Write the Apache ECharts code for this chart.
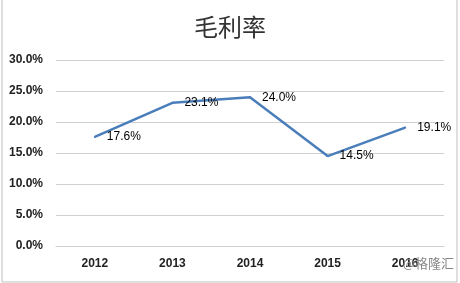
<!DOCTYPE html>
<html><head><meta charset="utf-8">
<script src="https://cdn.jsdelivr.net/npm/echarts@6/dist/echarts.min.js"></script>
<style>html,body{margin:0;padding:0;background:#fff}#c{width:460px;height:283px}</style>
</head><body><div id="c"></div>
<script>
const categories = ['2012','2013','2014','2015','2016'];
const grossMargin = [17.6, 23.1, 24.0, 14.5, 19.1];
const yTicks = [0, 5, 10, 15, 20, 25, 30];
const chart = echarts.init(document.getElementById('c'));
chart.setOption({
  animation: false,
  backgroundColor: '#fff',
  title: { text: '毛利率', left: 'center', top: 10,
    textStyle: { fontFamily: 'Noto Sans CJK SC', fontSize: 24, fontWeight: 'normal', color: '#333' } },
  graphic: [
    { type: 'rect', shape: { x: 2, y: -5, width: 455, height: 287 }, style: { fill: 'none', stroke: '#bfbfbf', lineWidth: 1 } },
    { type: 'text', right: 6, top: 257, z: 100, style: { text: '@格隆汇', fill: '#888', font: '13px "Noto Sans CJK SC"' } }
  ],
  grid: { left: 56, right: 16, top: 60, bottom: 37 },
  xAxis: { type: 'category', data: categories, boundaryGap: true,
    axisLine: { lineStyle: { color: '#d0d0d0' } }, axisTick: { show: false },
    axisLabel: { color: '#222', fontWeight: 'bold', fontSize: 12, fontFamily: 'Liberation Sans', margin: 12 } },
  yAxis: { type: 'value', min: yTicks[0], max: yTicks[yTicks.length-1], interval: 5,
    axisLine: { show: false }, axisTick: { show: false },
    splitLine: { lineStyle: { color: '#d0d0d0' } },
    axisLabel: { color: '#222', fontWeight: 'bold', fontSize: 12, fontFamily: 'Liberation Sans', margin: 13,
      formatter: v => v.toFixed(1) + '%' } },
  series: [{ type: 'line', data: grossMargin, showSymbol: true, symbol: 'circle', symbolSize: 2,
    itemStyle: { color: '#4a7ebb' },
    lineStyle: { color: '#4a7ebb', width: 2.5 },
    label: { show: true, position: 'right', distance: 11, color: '#000', fontSize: 12, fontFamily: 'Liberation Sans',
      formatter: p => p.value.toFixed(1) + '%' } }]
});
</script></body></html>
